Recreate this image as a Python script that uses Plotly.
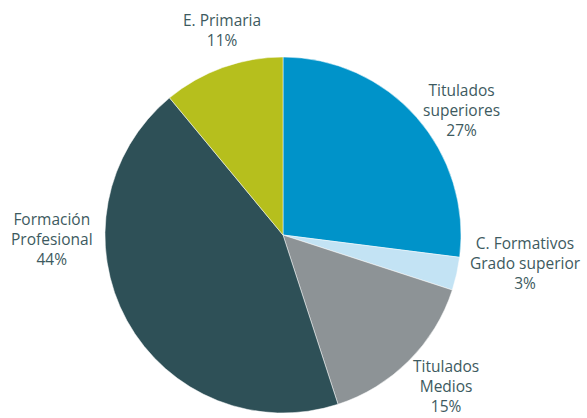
import plotly.graph_objects as go

# Share of staff by education level
categories = ["Titulados<br>superiores", "C. Formativos<br>Grado superior", "Titulados<br>Medios",
              "Formación<br>Profesional", "E. Primaria"]
values = [27, 3, 15, 44, 11]
colors = ["#0093c9", "#c3e3f4", "#8d9396", "#2e5057", "#b6bf1d"]

# Label centres in pixels (x, y from top) for a 587x418 canvas
label_pos = [(462, 110), (525, 263), (446, 386), (52, 239), (222, 30)]

W, H = 587, 418
cx, cy, r = 283, 235, 178

fig = go.Figure(go.Pie(
    values=values,
    labels=[c.replace("<br>", " ") for c in categories],
    marker=dict(colors=colors, line=dict(color="white", width=0.5)),
    sort=False,
    direction="clockwise",
    rotation=0,
    textinfo="none",
    hoverinfo="label+percent",
    domain=dict(x=[(cx - r) / W, (cx + r) / W], y=[(H - cy - r) / H, (H - cy + r) / H]),
))

for cat, v, (px, py) in zip(categories, values, label_pos):
    fig.add_annotation(
        x=px / W, y=1 - py / H, xref="paper", yref="paper",
        text=f"{cat}<br>{v}%", showarrow=False,
        xanchor="center", yanchor="middle", align="center",
        font=dict(family="Open Sans", size=15.5, color="#3d5a60"),
    )

fig.update_layout(
    width=W, height=H,
    margin=dict(l=0, r=0, t=0, b=0),
    paper_bgcolor="white",
    showlegend=False,
)

fig.write_html("out.html")
